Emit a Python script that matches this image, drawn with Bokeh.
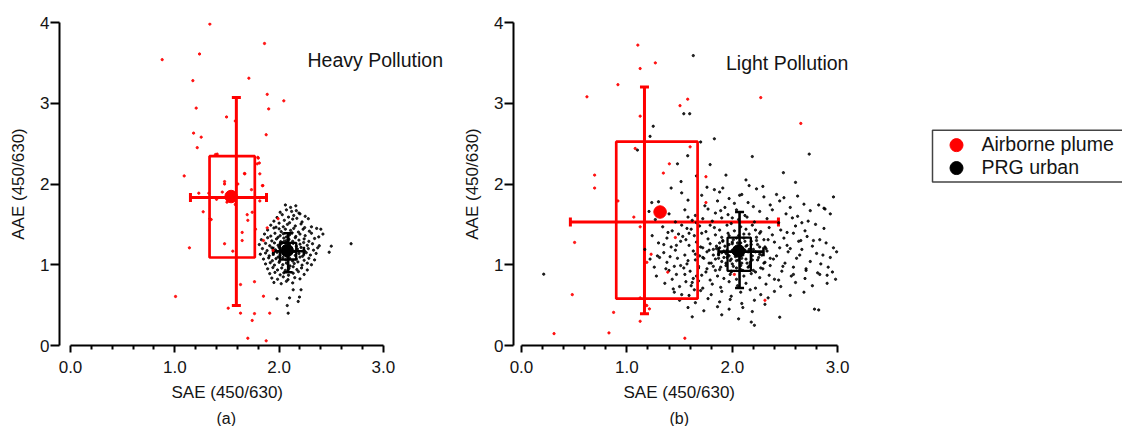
from bokeh.plotting import figure
from bokeh.layouts import row
from bokeh.models import ColumnDataSource, Whisker, TeeHead, Label, Title, FixedTicker, Range1d
from bokeh.embed import file_html
from bokeh.resources import INLINE
from bokeh.core.properties import value

FONT = "Liberation Sans"
RED = "#ff0000"
INK = "#141414"

# ---------------- axis ticks / texts ----------------
x_ticks = [0, 1, 2, 3]
x_tick_labels = ["0.0", "1.0", "2.0", "3.0"]
x_minor_ticks = [0.2, 0.4, 0.6, 0.8, 1.2, 1.4, 1.6, 1.8, 2.2, 2.4, 2.6, 2.8]
y_ticks = [0, 1, 2, 3, 4]
x_label = "SAE (450/630)"
y_label = "AAE (450/630)"
legend_labels = ["Airborne plume", "PRG urban"]
legend_colors = [RED, "black"]

# ---------------- (a) Heavy pollution ----------------
plume_a = [
    (1.336, 3.98), (0.879, 3.54), (1.237, 3.61), (1.86, 3.74), (1.173, 3.28), (1.71, 3.31),
    (1.886, 3.11), (2.045, 3.03), (1.205, 2.94), (1.90, 2.93), (1.496, 2.83), (1.58, 2.78),
    (1.18, 2.63), (1.253, 2.58), (1.876, 2.61), (1.215, 2.45), (1.39, 2.365), (1.796, 2.33),
    (1.79, 2.25), (1.09, 2.10), (1.671, 2.126), (1.815, 2.126), (1.477, 2.03), (1.477, 2.00),
    (1.604, 2.00), (1.844, 1.98), (1.735, 1.93), (1.23, 1.886), (1.326, 1.886), (1.455, 1.90),
    (1.40, 1.81), (1.50, 1.775), (1.58, 1.746), (1.815, 1.79), (1.272, 1.656), (1.694, 1.62),
    (1.70, 1.55), (1.336, 1.57), (1.774, 1.44), (1.646, 1.40), (1.646, 1.30), (1.85, 1.30),
    (1.477, 1.26), (1.556, 1.168), (1.14, 1.21), (1.63, 0.755), (1.764, 0.79), (1.99, 1.57),
    (1.943, 1.176), (1.007, 0.607), (1.85, 0.61), (1.512, 0.462), (1.63, 0.40), (1.764, 0.395),
    (1.91, 0.40), (1.742, 0.31), (1.70, 0.09), (1.876, 0.058), (1.406, 2.37), (1.668, 2.13),
    (1.84, 1.98), (1.742, 1.65), (1.349, 1.56), (1.886, 1.457), (1.81, 2.26), (1.80, 2.32),
]
urban_a = [
    (2.06, 1.74), (2.16, 1.73), (2.11, 1.71),
    (2.07, 1.68), (2.165, 1.67), (2.01, 1.65), (2.19, 1.64), (2.12, 1.66),
    (2.14, 1.61), (2.25, 1.60), (2.03, 1.62), (2.09, 1.59), (1.98, 1.585), (2.20, 1.63),
    (2.05, 1.55), (2.13, 1.565), (2.22, 1.53), (2.28, 1.57), (1.95, 1.54), (2.10, 1.52), (2.17, 1.575),
    (1.92, 1.49), (2.00, 1.515), (2.04, 1.47), (2.08, 1.50), (2.155, 1.48), (2.21, 1.505), (2.31, 1.47),
    (2.245, 1.46), (1.97, 1.465),
    (1.89, 1.43), (1.95, 1.455), (2.02, 1.41), (2.06, 1.44), (2.11, 1.425), (2.14, 1.45), (2.185, 1.405),
    (2.23, 1.44), (2.29, 1.415), (2.36, 1.45), (2.00, 1.445),
    (1.86, 1.38), (1.92, 1.355), (1.96, 1.39), (2.01, 1.36), (2.04, 1.385), (2.07, 1.345), (2.10, 1.37),
    (2.125, 1.395), (2.16, 1.35), (2.20, 1.38), (2.25, 1.36), (2.31, 1.39), (2.38, 1.345), (1.99, 1.34),
    (1.83, 1.31), (1.89, 1.335), (1.93, 1.295), (1.975, 1.32), (2.015, 1.285), (2.045, 1.33), (2.07, 1.30),
    (2.095, 1.315), (2.13, 1.29), (2.155, 1.335), (2.19, 1.305), (2.24, 1.32), (2.285, 1.29), (2.34, 1.325),
    (2.05, 1.29),
    (1.81, 1.25), (1.87, 1.265), (1.91, 1.235), (1.955, 1.27), (1.99, 1.24), (2.02, 1.26), (2.05, 1.225),
    (2.075, 1.275), (2.10, 1.245), (2.135, 1.265), (2.165, 1.23), (2.20, 1.255), (2.235, 1.275), (2.27, 1.24),
    (2.32, 1.26), (2.385, 1.235), (2.03, 1.275),
    (1.84, 1.20), (1.885, 1.175), (1.93, 1.21), (1.965, 1.185), (2.00, 1.215), (2.025, 1.17), (2.055, 1.20),
    (2.085, 1.18), (2.115, 1.21), (2.145, 1.165), (2.175, 1.195), (2.21, 1.215), (2.245, 1.17), (2.28, 1.20),
    (2.33, 1.18), (2.37, 1.21), (1.95, 1.165),
    (1.82, 1.13), (1.87, 1.145), (1.905, 1.11), (1.945, 1.135), (1.98, 1.155), (2.01, 1.12), (2.04, 1.145),
    (2.07, 1.105), (2.095, 1.13), (2.125, 1.155), (2.155, 1.115), (2.19, 1.14), (2.225, 1.105), (2.26, 1.15),
    (2.30, 1.12), (2.355, 1.14),
    (1.85, 1.07), (1.90, 1.085), (1.935, 1.05), (1.97, 1.075), (2.005, 1.045), (2.035, 1.09), (2.065, 1.06),
    (2.10, 1.08), (2.13, 1.045), (2.165, 1.07), (2.20, 1.095), (2.24, 1.055), (2.285, 1.08), (2.34, 1.06),
    (1.99, 1.095),
    (1.87, 1.01), (1.915, 1.025), (1.955, 0.995), (2.00, 1.03), (2.035, 1.00), (2.07, 1.02), (2.105, 0.985),
    (2.145, 1.015), (2.18, 1.035), (2.22, 0.995), (2.27, 1.02), (2.31, 1.00),
    (1.89, 0.95), (1.94, 0.965), (1.985, 0.935), (2.025, 0.96), (2.06, 0.93), (2.095, 0.955), (2.135, 0.975),
    (2.17, 0.94), (2.215, 0.96), (2.27, 0.935),
    (1.91, 0.89), (1.96, 0.905), (2.01, 0.875), (2.045, 0.90), (2.09, 0.87), (2.135, 0.895), (2.185, 0.915),
    (2.24, 0.88),
    (1.93, 0.835), (1.985, 0.82), (2.04, 0.85), (2.085, 0.815), (2.15, 0.84), (2.20, 0.825),
    (1.95, 0.78), (2.02, 0.765), (2.07, 0.795), (2.13, 0.775),
    (2.50, 1.23), (2.48, 1.155), (2.69, 1.26), (2.135, 0.69), (2.21, 0.69), (1.98, 0.578),
    (2.10, 0.59), (2.195, 0.60), (2.183, 0.545), (2.078, 0.495), (2.087, 0.40), (2.42, 1.38), (2.40, 1.44),
]
# summary: mean, box (25-75 %), whiskers through the median
plume_a_stats = dict(mean_x=1.54, mean_y=1.845, box_l=1.333, box_r=1.767, box_b=1.09, box_t=2.344,
                     med_x=1.59, med_y=1.833, lo_x=1.15, hi_x=1.879, lo_y=0.495, hi_y=3.07)
urban_a_stats = dict(mean_x=2.077, mean_y=1.176, box_l=2.007, box_r=2.164, box_b=1.065, box_t=1.272,
                     med_x=2.087, med_y=1.168, lo_x=1.943, hi_x=2.237, lo_y=0.908, hi_y=1.39)

# ---------------- (b) Light pollution ----------------
plume_b = [
    (1.104, 3.72), (1.126, 3.43), (1.27, 3.50), (0.915, 3.23), (0.621, 3.08), (1.577, 3.05),
    (1.504, 2.97), (2.27, 3.07), (1.126, 2.84), (2.65, 2.75), (1.079, 2.44), (1.60, 2.46),
    (1.403, 2.25), (1.346, 2.135), (0.694, 2.11), (0.694, 1.95), (1.75, 2.09), (0.915, 1.79),
    (1.75, 1.77), (1.066, 1.59), (1.126, 1.47), (0.504, 1.276), (1.46, 1.337), (1.23, 1.13),
    (1.388, 0.908), (1.19, 1.03), (0.482, 0.63), (1.126, 0.589), (1.189, 0.495), (1.214, 0.454),
    (0.874, 0.41), (1.126, 0.30), (0.309, 0.147), (0.83, 0.156), (1.55, 0.09), (2.31, 0.56),
    (2.02, 0.88), (1.173, 0.507),
]
urban_b = [
    (1.76, 1.96), (1.83, 1.93), (2.16, 1.98), (2.23, 1.94), (1.91, 1.95), (2.29, 1.97),
    (1.52, 1.89), (1.71, 1.86), (1.88, 1.90), (2.09, 1.87), (2.30, 1.84), (2.42, 1.87), (2.49, 1.83),
    (1.97, 1.82), (2.62, 1.85), (2.07, 1.86),
    (1.30, 1.78), (1.58, 1.80), (1.74, 1.73), (1.86, 1.79), (2.02, 1.76), (2.15, 1.77), (2.20, 1.72),
    (2.45, 1.79), (2.68, 1.75), (1.93, 1.71), (2.55, 1.71), (2.82, 1.74), (2.36, 1.74),
    (1.21, 1.66), (1.40, 1.63), (1.55, 1.68), (1.65, 1.61), (1.77, 1.69), (1.84, 1.64), (1.96, 1.62),
    (2.04, 1.68), (2.12, 1.61), (2.26, 1.66), (2.38, 1.68), (2.51, 1.63), (2.62, 1.60), (2.74, 1.67),
    (2.88, 1.69), (2.93, 1.63), (1.89, 1.67),
    (1.27, 1.56), (1.46, 1.53), (1.58, 1.59), (1.66, 1.52), (1.72, 1.57), (1.81, 1.54), (1.90, 1.58),
    (1.99, 1.51), (2.06, 1.56), (2.14, 1.59), (2.21, 1.53), (2.33, 1.57), (2.44, 1.52), (2.57, 1.58),
    (2.72, 1.54), (2.79, 1.50), (1.62, 1.55), (2.00, 1.58),
    (1.34, 1.47), (1.43, 1.42), (1.52, 1.49), (1.61, 1.44), (1.69, 1.48), (1.75, 1.41), (1.83, 1.46),
    (1.88, 1.43), (1.95, 1.49), (2.02, 1.42), (2.08, 1.47), (2.13, 1.44), (2.19, 1.49), (2.27, 1.41),
    (2.35, 1.46), (2.46, 1.43), (2.60, 1.48), (2.69, 1.42), (2.87, 1.45), (1.79, 1.49), (2.22, 1.43),
    (1.24, 1.36), (1.38, 1.33), (1.49, 1.38), (1.56, 1.31), (1.64, 1.36), (1.71, 1.39), (1.77, 1.32),
    (1.84, 1.37), (1.90, 1.34), (1.96, 1.39), (2.01, 1.31), (2.06, 1.36), (2.11, 1.33), (2.16, 1.38),
    (2.23, 1.34), (2.30, 1.31), (2.38, 1.37), (2.49, 1.33), (2.58, 1.39), (2.71, 1.35), (2.83, 1.31),
    (1.59, 1.39), (2.26, 1.39), (2.65, 1.30),
    (1.30, 1.27), (1.42, 1.22), (1.51, 1.29), (1.59, 1.24), (1.66, 1.28), (1.72, 1.21), (1.79, 1.26),
    (1.85, 1.23), (1.91, 1.29), (1.97, 1.25), (2.03, 1.21), (2.08, 1.27), (2.13, 1.23), (2.18, 1.29),
    (2.24, 1.25), (2.31, 1.22), (2.40, 1.28), (2.52, 1.24), (2.63, 1.29), (2.76, 1.23), (2.89, 1.27),
    (2.96, 1.21), (1.88, 1.21), (2.00, 1.28), (2.45, 1.21),
    (1.17, 1.19), (1.35, 1.15), (1.46, 1.18), (1.55, 1.12), (1.63, 1.17), (1.69, 1.11), (1.76, 1.16),
    (1.82, 1.19), (1.87, 1.13), (1.92, 1.17), (1.97, 1.11), (2.01, 1.15), (2.05, 1.19), (2.10, 1.12),
    (2.15, 1.16), (2.20, 1.19), (2.26, 1.13), (2.33, 1.17), (2.42, 1.11), (2.53, 1.16), (2.66, 1.19),
    (2.80, 1.14), (2.99, 1.16), (2.86, 1.12), (1.94, 1.14), (2.12, 1.18), (1.29, 1.11),
    (1.22, 1.07), (1.38, 1.03), (1.48, 1.08), (1.57, 1.01), (1.65, 1.06), (1.72, 1.09), (1.78, 1.02),
    (1.84, 1.07), (1.90, 1.04), (1.95, 1.09), (2.00, 1.01), (2.04, 1.05), (2.09, 1.08), (2.14, 1.02),
    (2.19, 1.06), (2.25, 1.09), (2.31, 1.03), (2.39, 1.07), (2.50, 1.02), (2.61, 1.08), (2.74, 1.04),
    (2.93, 1.09), (2.84, 1.01), (1.99, 1.07), (2.17, 1.00), (1.31, 1.09),
    (1.26, 0.97), (1.40, 0.93), (1.51, 0.99), (1.60, 0.92), (1.68, 0.96), (1.75, 0.91), (1.82, 0.98),
    (1.88, 0.94), (1.94, 0.99), (1.99, 0.92), (2.04, 0.96), (2.10, 0.93), (2.16, 0.98), (2.22, 0.91),
    (2.29, 0.95), (2.36, 0.99), (2.47, 0.92), (2.58, 0.97), (2.70, 0.93), (2.91, 0.97), (2.95, 0.91),
    (2.08, 0.99), (1.45, 0.98),
    (1.28, 0.86), (1.43, 0.82), (1.55, 0.88), (1.63, 0.83), (1.71, 0.87), (1.79, 0.81), (1.86, 0.86),
    (1.92, 0.83), (1.98, 0.88), (2.04, 0.82), (2.11, 0.86), (2.18, 0.89), (2.26, 0.84), (2.35, 0.87),
    (2.44, 0.81), (2.56, 0.86), (2.69, 0.83), (2.83, 0.88), (2.98, 0.82), (2.90, 0.87), (1.68, 0.80),
    (1.36, 0.77), (1.50, 0.73), (1.62, 0.78), (1.72, 0.71), (1.81, 0.76), (1.89, 0.72), (1.97, 0.79),
    (2.05, 0.74), (2.13, 0.77), (2.22, 0.71), (2.32, 0.76), (2.46, 0.73), (2.60, 0.78), (2.76, 0.74),
    (2.90, 0.77), (1.56, 0.79),
    (1.45, 0.66), (1.59, 0.62), (1.70, 0.68), (1.80, 0.63), (1.90, 0.67), (1.99, 0.61), (2.08, 0.66),
    (2.17, 0.69), (2.27, 0.63), (2.40, 0.67), (2.55, 0.62), (2.68, 0.66), (1.64, 0.69),
    (1.50, 0.56), (1.65, 0.53), (1.77, 0.58), (1.88, 0.54), (1.98, 0.57), (2.09, 0.52), (2.21, 0.56),
    (2.34, 0.59), (2.31, 0.51),
    (1.58, 0.47), (1.73, 0.43), (1.86, 0.48), (1.97, 0.45), (2.10, 0.47), (2.19, 0.42), (2.82, 0.44),
    (2.78, 0.45),
    (1.62, 0.355), (2.45, 0.35), (2.18, 0.29), (2.21, 0.25), (1.90, 0.38), (2.06, 0.33),
    (1.63, 3.59), (1.54, 2.87), (1.596, 2.87), (1.25, 2.715), (1.22, 2.59), (1.83, 2.56), (1.70, 2.52),
    (1.10, 2.42), (1.577, 2.35), (2.19, 2.34), (2.73, 2.37), (1.48, 2.25), (1.79, 2.24), (2.485, 2.14),
    (1.94, 2.11), (1.514, 2.03), (1.236, 1.77), (2.96, 1.84), (2.87, 1.70), (0.211, 0.883), (2.13, 2.05),
    (1.66, 2.10), (2.60, 2.02), (1.42, 1.95),
    (1.96, 1.12), (2.00, 1.18), (2.03, 1.10), (2.07, 1.21), (2.10, 1.14), (2.13, 1.07), (1.93, 1.23),
    (1.98, 1.05), (2.05, 1.27), (2.09, 1.02), (2.16, 1.19), (2.19, 1.11), (1.90, 1.15), (1.94, 1.02),
    (2.01, 0.98), (2.12, 1.29), (2.15, 0.97), (2.22, 1.16), (1.87, 1.08), (1.91, 1.30), (2.04, 1.33),
    (2.08, 0.94), (2.18, 1.25), (2.24, 1.06), (1.85, 1.20), (1.97, 1.36), (2.11, 1.38), (2.20, 0.93),
    (1.99, 0.91), (1.89, 0.97), (2.26, 1.22), (2.02, 1.14), (2.06, 1.06), (1.95, 1.18), (2.14, 1.24),
    (1.88, 1.27), (2.17, 1.03), (2.23, 1.30), (2.00, 1.26), (1.92, 1.09), (1.82, 1.12), (1.80, 1.02),
    (1.78, 1.18), (2.28, 1.12), (2.30, 1.02), (2.32, 1.20), (1.84, 0.93), (2.27, 0.96), (1.76, 0.95),
    (1.73, 1.08), (1.70, 1.22), (2.34, 1.31), (2.36, 1.08), (1.68, 0.98), (1.65, 1.13),
    (1.35, 1.25), (1.41, 1.10), (1.47, 0.88), (1.53, 1.35), (1.37, 0.95), (1.44, 0.70), (1.58, 1.05),
    (1.61, 0.74), (1.52, 0.63), (1.66, 0.86), (1.39, 1.40), (1.47, 1.24), (1.54, 0.96), (1.57, 1.45),
    (2.52, 1.40), (2.64, 1.12), (2.70, 0.95), (2.58, 0.88), (2.77, 1.30), (2.48, 0.98), (2.55, 1.20),
    (2.40, 0.82), (2.66, 1.52), (2.81, 0.90),
]
plume_b_stats = dict(mean_x=1.315, mean_y=1.653, box_l=0.899, box_r=1.671, box_b=0.58, box_t=2.524,
                     med_x=1.167, med_y=1.53, lo_x=0.464, hi_x=2.438, lo_y=0.393, hi_y=3.20)
urban_b_stats = dict(mean_x=2.06, mean_y=1.17, box_l=1.955, box_r=2.176, box_b=0.924, box_t=1.337,
                     med_x=2.069, med_y=1.162, lo_x=1.87, hi_x=2.296, lo_y=0.712, hi_y=1.653)

H = 426
TOP = 22
BOTTOM = 80


def style_axes(p):
    for ax in (p.xaxis[0], p.yaxis[0]):
        ax.axis_line_width = 2
        ax.axis_line_color = "black"
        ax.major_tick_line_width = 2
        ax.minor_tick_line_width = 2
        ax.major_tick_in = 0
        ax.minor_tick_in = 0
        ax.major_label_text_font = FONT
        ax.major_label_text_font_size = "17px"
        ax.major_label_text_color = INK
        ax.axis_label_text_font = FONT
        ax.axis_label_text_font_size = "17px"
        ax.axis_label_text_font_style = "normal"
        ax.axis_label_text_color = INK
    xa = p.xaxis[0]
    xa.bounds = (0, 3)
    xa.ticker = FixedTicker(ticks=x_ticks, minor_ticks=x_minor_ticks)
    xa.major_label_overrides = {t: s for t, s in zip(x_ticks, x_tick_labels)}
    xa.major_tick_out = 7
    xa.minor_tick_out = 4
    xa.major_label_standoff = 8
    ya = p.yaxis[0]
    ya.bounds = (0, 4)
    ya.ticker = FixedTicker(ticks=y_ticks, minor_ticks=[])
    ya.major_tick_out = 9
    ya.minor_tick_out = 0
    ya.major_label_standoff = 1
    ya.axis_label = y_label
    ya.axis_label_standoff = 9


def make_panel(width, b_left, b_right, xr, plume, urban, pst, ust, tag, note, note_x, note_y,
               xlab_off, tag_off):
    p = figure(width=width, height=H, x_range=Range1d(*xr), y_range=Range1d(0, 4),
               output_backend="svg", toolbar_location=None,
               min_border_left=b_left, min_border_right=b_right, min_border_top=TOP,
               min_border_bottom=BOTTOM, outline_line_color=None, background_fill_color="white")
    p.grid.visible = False
    style_axes(p)

    p.scatter([q[0] for q in urban], [q[1] for q in urban], size=2.3, color="black", alpha=0.85)
    p.scatter([q[0] for q in plume], [q[1] for q in plume], size=2.3, color=RED, alpha=0.9)

    for st, col, lw in ((pst, RED, 3), (ust, "black", 2.6)):
        p.quad(left=[st["box_l"]], right=[st["box_r"]], bottom=[st["box_b"]], top=[st["box_t"]],
               fill_color=None, line_color=col, line_width=lw - 0.3)
        vsrc = ColumnDataSource(dict(base=[st["med_x"]], lower=[st["lo_y"]], upper=[st["hi_y"]]))
        hsrc = ColumnDataSource(dict(base=[st["med_y"]], lower=[st["lo_x"]], upper=[st["hi_x"]]))
        for src, dim in ((vsrc, "height"), (hsrc, "width")):
            w = Whisker(source=src, base="base", lower="lower", upper="upper", dimension=dim,
                        line_color=col, line_width=lw,
                        upper_head=TeeHead(size=9, line_color=col, line_width=lw),
                        lower_head=TeeHead(size=9, line_color=col, line_width=lw))
            p.add_layout(w)
        p.scatter([st["mean_x"]], [st["mean_y"]], size=12.5, color=col)

    p.add_layout(Label(x=note_x, y=note_y, text=note, text_font=FONT, text_font_size="19.5px",
                       text_color=INK, text_baseline="middle", text_align="left"))
    p.add_layout(Title(text=x_label, align="left", offset=xlab_off, text_font=FONT,
                       text_font_size="17px", text_font_style="normal", text_color=INK,
                       standoff=11), "below")
    p.add_layout(Title(text=tag, align="left", offset=tag_off, text_font=FONT,
                       text_font_size="16px", text_font_style="normal", text_color=INK,
                       standoff=0), "below")
    return p


p1 = make_panel(460, 59, 5, (-0.1055, 3.691), plume_a, urban_a, plume_a_stats, urban_a_stats,
                "(a)", "Heavy Pollution", 2.272, 3.53, 112, 157)
p2 = make_panel(440, 52, 38, (-0.0757, 3.2355), plume_b, urban_b, plume_b_stats, urban_b_stats,
                "(b)", "Light Pollution", 1.94, 3.50, 110, 156)

# legend panel: ranges set to page pixels (frame spans x 900..1122, y 22..346)
LW = 222
p3 = figure(width=LW, height=H, x_range=Range1d(900, 900 + LW), y_range=Range1d(H - BOTTOM, TOP),
            output_backend="svg", toolbar_location=None, min_border_left=0, min_border_right=0,
            min_border_top=TOP, min_border_bottom=BOTTOM,
            x_axis_location=None, y_axis_location=None, outline_line_color=None)
p3.grid.visible = False
p3.quad(left=[932], right=[1140], top=[130], bottom=[182], fill_color="white",
        line_color="#444444", line_width=1.5)
p3.scatter([956, 956], [145, 168], size=13, color=legend_colors)
p3.text([981, 981], [144, 167], text=legend_labels, text_font=value(FONT), text_font_size="19.5px",
        text_baseline="middle", text_align="left", text_color=INK)

layout = row(p1, p2, p3)
open("out.html", "w").write(file_html(layout, INLINE))
